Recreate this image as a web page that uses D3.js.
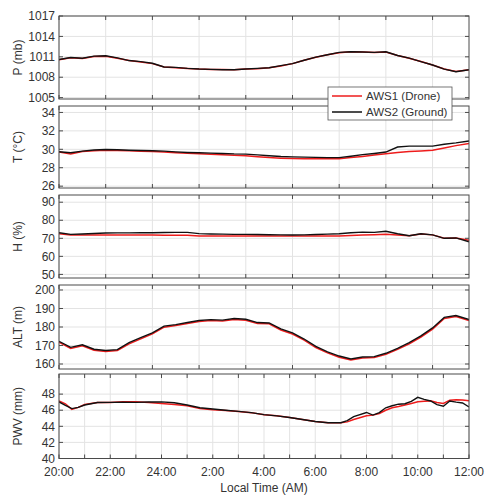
<html>
<head>
<meta charset="utf-8">
<script src="https://cdn.jsdelivr.net/npm/d3@7"></script>
<style>
body { margin: 0; background: #fff; }
svg text { font-family: "Liberation Sans", Arial, sans-serif; fill: #333; }
.grid line { stroke: #e3e3e3; stroke-width: 1; }
.frame { fill: none; stroke: #4a4a4a; stroke-width: 1; }
.tick { stroke: #4a4a4a; stroke-width: 1; }
</style>
</head>
<body>
<svg id="chart" width="487" height="495"></svg>
<script>
// hours after 20:00 for the upper four panels
var hrs = [0,0.5,1,1.5,2,2.5,3,3.5,4,4.5,5,5.5,6,6.5,7,7.5,8,8.5,9,9.5,10,10.5,11,11.5,12,12.5,13,13.5,14,14.5,15,15.5,16,16.5,17,17.56];

var pDrone  = [1010.55,1010.85,1010.75,1011.05,1011.1,1010.8,1010.45,1010.25,1010.0,1009.5,1009.4,1009.3,1009.2,1009.15,1009.15,1009.1,1009.2,1009.25,1009.4,1009.65,1010.0,1010.5,1010.95,1011.3,1011.6,1011.75,1011.7,1011.65,1011.7,1011.2,1010.8,1010.3,1009.8,1009.2,1008.85,1009.1];
var pGround = [1010.6,1010.9,1010.8,1011.1,1011.15,1010.85,1010.45,1010.3,1010.05,1009.5,1009.45,1009.3,1009.2,1009.15,1009.1,1009.1,1009.2,1009.3,1009.4,1009.7,1010.0,1010.5,1010.95,1011.3,1011.65,1011.75,1011.7,1011.65,1011.75,1011.2,1010.8,1010.3,1009.8,1009.2,1008.8,1009.1];

var tDrone  = [29.7,29.48,29.75,29.85,29.9,29.87,29.83,29.8,29.77,29.7,29.62,29.56,29.51,29.45,29.4,29.35,29.3,29.2,29.1,29.04,29.0,28.98,28.97,28.97,28.97,29.1,29.23,29.38,29.52,29.65,29.75,29.82,29.9,30.15,30.4,30.64];
var tGround = [29.73,29.62,29.8,29.92,29.98,29.95,29.9,29.87,29.84,29.8,29.72,29.66,29.62,29.58,29.55,29.5,29.48,29.4,29.3,29.22,29.18,29.15,29.12,29.1,29.1,29.25,29.42,29.55,29.7,30.25,30.35,30.35,30.35,30.55,30.7,30.9];

var hDrone  = [72.5,71.8,71.8,71.8,71.8,71.8,71.8,71.8,71.8,71.7,71.7,71.7,71.3,71.3,71.3,71.3,71.3,71.3,71.3,71.3,71.3,71.3,71.3,71.3,71.3,71.5,71.8,72.0,72.2,71.8,71.4,72.4,71.9,70.0,70.2,68.9];
var hGround = [73.1,72.2,72.4,72.7,72.9,73.0,73.0,73.1,73.1,73.2,73.3,73.3,72.6,72.4,72.3,72.2,72.2,72.1,72.0,71.9,71.8,71.9,72.1,72.3,72.5,73.1,73.4,73.3,73.9,72.5,71.4,72.5,71.9,70.0,70.2,68.1];

var altDrone  = [171.8,168.4,169.9,167.4,166.8,167.3,170.9,173.6,176.3,179.9,180.8,181.9,183.0,183.5,183.2,184.1,183.7,181.9,181.7,178.4,176.2,172.9,168.9,166.0,163.7,162.2,163.2,163.5,165.2,167.9,170.9,174.6,178.9,184.6,185.7,183.5];
var altGround = [172.3,169.0,170.4,168.0,167.3,167.8,171.5,174.2,176.8,180.5,181.3,182.4,183.5,184.0,183.7,184.6,184.2,182.4,182.2,179.0,176.8,173.5,169.5,166.6,164.3,162.7,163.8,164.0,165.8,168.5,171.5,175.2,179.5,185.2,186.2,184.0];

// PWV panel, hours after 20:00
var pwvHrs = [0,0.25,0.5,0.75,1,1.5,2,2.5,3,3.5,4,4.5,5,5.5,6,6.5,7,7.5,8,8.5,9,9.5,10,10.5,11,11.25,11.5,12,12.25,12.5,12.75,13,13.25,13.5,13.75,14,14.25,14.5,14.75,15,15.25,15.5,15.75,16];
var pwvDrone  = [47.16,46.8,46.1,46.35,46.7,46.95,46.97,47.05,47.04,46.95,46.84,46.7,46.55,46.2,46.05,45.95,45.85,45.7,45.45,45.3,45.1,44.85,44.6,44.45,44.45,44.55,44.85,45.3,45.39,45.6,46.0,46.3,46.45,46.65,46.84,47.04,47.1,47.16,46.95,46.84,47.25,47.3,47.28,47.16];
var pwvGround = [47.04,46.6,46.2,46.35,46.65,46.95,46.97,47.0,46.98,47.02,47.04,46.92,46.65,46.3,46.15,46.0,45.85,45.7,45.45,45.3,45.1,44.85,44.6,44.45,44.45,44.7,45.2,45.72,45.4,45.7,46.3,46.55,46.75,46.8,47.1,47.6,47.35,47.15,46.7,46.5,47.15,47.0,46.9,46.4];

var timeTicks  = [0,1,2,3,4,5,6,7,8,9,10,11,12,13,14,15,16];
var timeLabels = ["20:00","","22:00","","24:00","","2:00","","4:00","","6:00","","8:00","","10:00","","12:00"];

var panels = [
  {label: "P (mb)",  top: 16,  bottom: 99,  dom: [1004.8, 1017], ticks: [1005,1008,1011,1014,1017], x: hrs, a: pDrone, b: pGround},
  {label: "T (°C)",  top: 106, bottom: 188, dom: [25.8, 34.7],   ticks: [26,28,30,32,34], x: hrs, a: tDrone, b: tGround},
  {label: "H (%)",   top: 195, bottom: 278, dom: [48, 94],       ticks: [50,60,70,80,90], x: hrs, a: hDrone, b: hGround},
  {label: "ALT (m)", top: 285, bottom: 369, dom: [157.3, 202.7], ticks: [160,170,180,190,200], x: hrs, a: altDrone, b: altGround},
  {label: "PWV (mm)",top: 374, bottom: 458.5, dom: [40, 50.5],   ticks: [40,42,44,46,48], x: pwvHrs, a: pwvDrone, b: pwvGround, last: true}
];

var left = 59, right = 469, tl = 4;
var svg = d3.select("#chart");

var xTop = d3.scaleLinear().domain([0, 17.56]).range([left, right]);
var xBot = d3.scaleLinear().domain([0, 16]).range([left, right]);

panels.forEach(function(p) {
  var x = p.last ? xBot : xTop;
  var xt = p.last ? timeTicks : [0,2,4,6,8,10,12,14,16];
  var y = d3.scaleLinear().domain(p.dom).range([p.bottom, p.top]);
  var g = svg.append("g");

  var grid = g.append("g").attr("class", "grid");
  grid.selectAll(".gx").data(xt).enter().append("line")
    .attr("x1", d => x(d)).attr("x2", d => x(d))
    .attr("y1", p.top).attr("y2", p.bottom);
  grid.selectAll(".gy").data(p.ticks).enter().append("line")
    .attr("x1", left).attr("x2", right)
    .attr("y1", d => y(d)).attr("y2", d => y(d));

  var line = d3.line().x((d, i) => x(p.x[i])).y(d => y(d));
  var clip = "clip" + p.top;
  g.append("clipPath").attr("id", clip).append("rect")
    .attr("x", left).attr("y", p.top).attr("width", right - left).attr("height", p.bottom - p.top);
  g.append("path").datum(p.a).attr("d", line).attr("clip-path", "url(#" + clip + ")")
    .attr("fill", "none").attr("stroke", "#ee1c1c").attr("stroke-width", 1.5);
  g.append("path").datum(p.b).attr("d", line).attr("clip-path", "url(#" + clip + ")")
    .attr("fill", "none").attr("stroke", "#111").attr("stroke-width", 1.4);

  // inward ticks on all four sides
  xt.forEach(function(d) {
    g.append("line").attr("class", "tick").attr("x1", x(d)).attr("x2", x(d)).attr("y1", p.bottom).attr("y2", p.bottom - tl);
    g.append("line").attr("class", "tick").attr("x1", x(d)).attr("x2", x(d)).attr("y1", p.top).attr("y2", p.top + tl);
  });
  p.ticks.forEach(function(d) {
    g.append("line").attr("class", "tick").attr("x1", left).attr("x2", left + tl).attr("y1", y(d)).attr("y2", y(d));
    g.append("line").attr("class", "tick").attr("x1", right).attr("x2", right - tl).attr("y1", y(d)).attr("y2", y(d));
  });

  g.append("rect").attr("class", "frame")
    .attr("x", left).attr("y", p.top).attr("width", right - left).attr("height", p.bottom - p.top);

  g.selectAll(".yl").data(p.ticks).enter().append("text")
    .attr("x", left - 4).attr("y", d => y(d)).attr("dy", "0.35em")
    .attr("text-anchor", "end").attr("font-size", 12).text(d => d);

  svg.append("text")
    .attr("transform", "translate(22," + ((p.top + p.bottom) / 2) + ") rotate(-90)")
    .attr("text-anchor", "middle").attr("font-size", 12).text(p.label);

  if (p.last) {
    g.selectAll(".xl").data(timeTicks).enter().append("text")
      .attr("x", d => x(d)).attr("y", p.bottom + 17)
      .attr("text-anchor", "middle").attr("font-size", 12)
      .text((d, i) => timeLabels[i]);
  }
});

svg.append("text").attr("x", (left + right) / 2).attr("y", 492)
  .attr("text-anchor", "middle").attr("font-size", 12).text("Local Time (AM)");

// legend
var leg = svg.append("g").attr("transform", "translate(328,87)");
leg.append("rect").attr("width", 124).attr("height", 33)
  .attr("fill", "#fff").attr("stroke", "#555").attr("stroke-width", 0.8);
var items = [{name: "AWS1 (Drone)", c: "#ee1c1c"}, {name: "AWS2 (Ground)", c: "#111"}];
items.forEach(function(it, i) {
  var yy = 9 + i * 16;
  leg.append("line").attr("x1", 4).attr("x2", 34).attr("y1", yy).attr("y2", yy)
    .attr("stroke", it.c).attr("stroke-width", 1.5);
  leg.append("text").attr("x", 38).attr("y", yy).attr("dy", "0.35em")
    .attr("font-size", 11.5).text(it.name);
});
</script>
</body>
</html>
